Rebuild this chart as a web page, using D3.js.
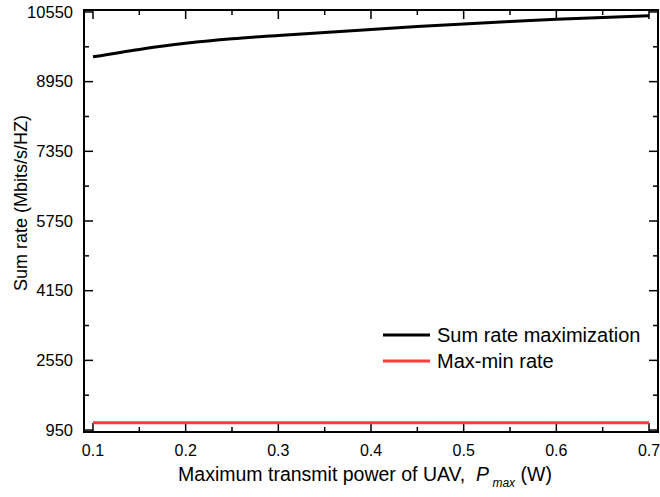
<!DOCTYPE html>
<html>
<head>
<meta charset="utf-8">
<script src="https://cdn.jsdelivr.net/npm/d3@7"></script>
<style>
  body { margin: 0; background: #fff; }
  svg { display: block; font-family: "Liberation Sans", Arial, sans-serif; }
  text { white-space: pre; }
</style>
</head>
<body>
<svg id="chart"></svg>
<script>
const w = 660, h = 497;
const margin = {left: 84, right: 2, top: 10, bottom: 65};

// data
const pmax = [0.1, 0.15, 0.2, 0.25, 0.3, 0.35, 0.4, 0.45, 0.5, 0.55, 0.6, 0.65, 0.7];
const sumRate = [9520, 9690, 9830, 9935, 10010, 10080, 10150, 10215, 10275, 10330, 10380, 10425, 10465];
const maxMinRate = [1120, 1120, 1120, 1120, 1120, 1120, 1120, 1120, 1120, 1120, 1120, 1120, 1120];
const xTicks = [0.1, 0.2, 0.3, 0.4, 0.5, 0.6, 0.7];
const xMinor = [0.15, 0.25, 0.35, 0.45, 0.55, 0.65];
const yTicks = [950, 2550, 4150, 5750, 7350, 8950, 10550];
const yMinor = [1750, 3350, 4950, 6550, 8150, 9750];
const seriesNames = ["Sum rate maximization", "Max-min rate"];
const seriesColors = ["#000000", "#ff3b3b"];

const svg = d3.select("#chart").attr("width", w).attr("height", h);

const x = d3.scaleLinear().domain([0.0903, 0.7097]).range([margin.left, w - margin.right]);
const y = d3.scaleLinear().domain([905, 10595]).range([h - margin.bottom, margin.top]);

const x0 = margin.left, x1 = w - margin.right, y0 = h - margin.bottom, y1 = margin.top;

// ticks, all pointing inward
function ticks(axis, pos, vals, len) {
  const g = svg.append("g");
  g.selectAll("line").data(vals).enter().append("line")
    .attr("stroke", "#000").attr("stroke-width", 1.5)
    .each(function(d) {
      const s = d3.select(this);
      if (axis === "bottom") s.attr("x1", x(d)).attr("x2", x(d)).attr("y1", pos).attr("y2", pos - len);
      if (axis === "top") s.attr("x1", x(d)).attr("x2", x(d)).attr("y1", pos).attr("y2", pos + len);
      if (axis === "left") s.attr("y1", y(d)).attr("y2", y(d)).attr("x1", pos).attr("x2", pos + len);
      if (axis === "right") s.attr("y1", y(d)).attr("y2", y(d)).attr("x1", pos).attr("x2", pos - len);
    });
  return g;
}
ticks("bottom", y0, xTicks, 9);
ticks("bottom", y0, xMinor, 5);
ticks("top", y1, xTicks, 9);
ticks("top", y1, xMinor, 5);
ticks("left", x0, yTicks, 9);
ticks("left", x0, yMinor, 5);
ticks("right", x1, yTicks, 9);
ticks("right", x1, yMinor, 5);

// tick labels
svg.append("g").selectAll("text").data(xTicks).enter().append("text")
  .attr("x", d => x(d)).attr("y", 456)
  .attr("text-anchor", "middle").attr("font-size", 16)
  .text(d => d.toFixed(1));

svg.append("g").selectAll("text").data(yTicks).enter().append("text")
  .attr("x", 73).attr("y", d => y(d)).attr("dy", "0.35em")
  .attr("text-anchor", "end").attr("font-size", 16.5)
  .text(d => d);

// lines
const line = d3.line().x((d, i) => x(pmax[i])).y(d => y(d)).curve(d3.curveMonotoneX);
[sumRate, maxMinRate].forEach((s, k) => {
  svg.append("path").datum(s)
    .attr("fill", "none").attr("stroke", seriesColors[k]).attr("stroke-width", 3)
    .attr("d", line);
});

// frame
svg.append("rect")
  .attr("x", x0).attr("y", y1).attr("width", x1 - x0).attr("height", y0 - y1)
  .attr("fill", "none").attr("stroke", "#000").attr("stroke-width", 2);

// legend
const lg = svg.append("g");
seriesNames.forEach((name, k) => {
  const ly = 335 + k * 26;
  lg.append("line").attr("x1", 383).attr("x2", 430).attr("y1", ly).attr("y2", ly)
    .attr("stroke", seriesColors[k]).attr("stroke-width", 3);
  lg.append("text").attr("x", 437).attr("y", ly).attr("dy", "0.36em")
    .attr("font-size", 20).text(name);
});

// axis titles
const xt = svg.append("text").attr("x", 365).attr("y", 481)
  .attr("text-anchor", "middle").attr("font-size", 19.5);
xt.append("tspan").text("Maximum transmit power of UAV,  ");
xt.append("tspan").attr("font-style", "italic").text("P");
xt.append("tspan").attr("font-style", "italic").attr("font-size", 12).attr("dy", 6).text(" max");
xt.append("tspan").attr("dy", -6).text(" (W)");

svg.append("text")
  .attr("transform", "translate(27,203) rotate(-90)")
  .attr("text-anchor", "middle").attr("font-size", 18)
  .text("Sum rate (Mbits/s/HZ)");
</script>
</body>
</html>
